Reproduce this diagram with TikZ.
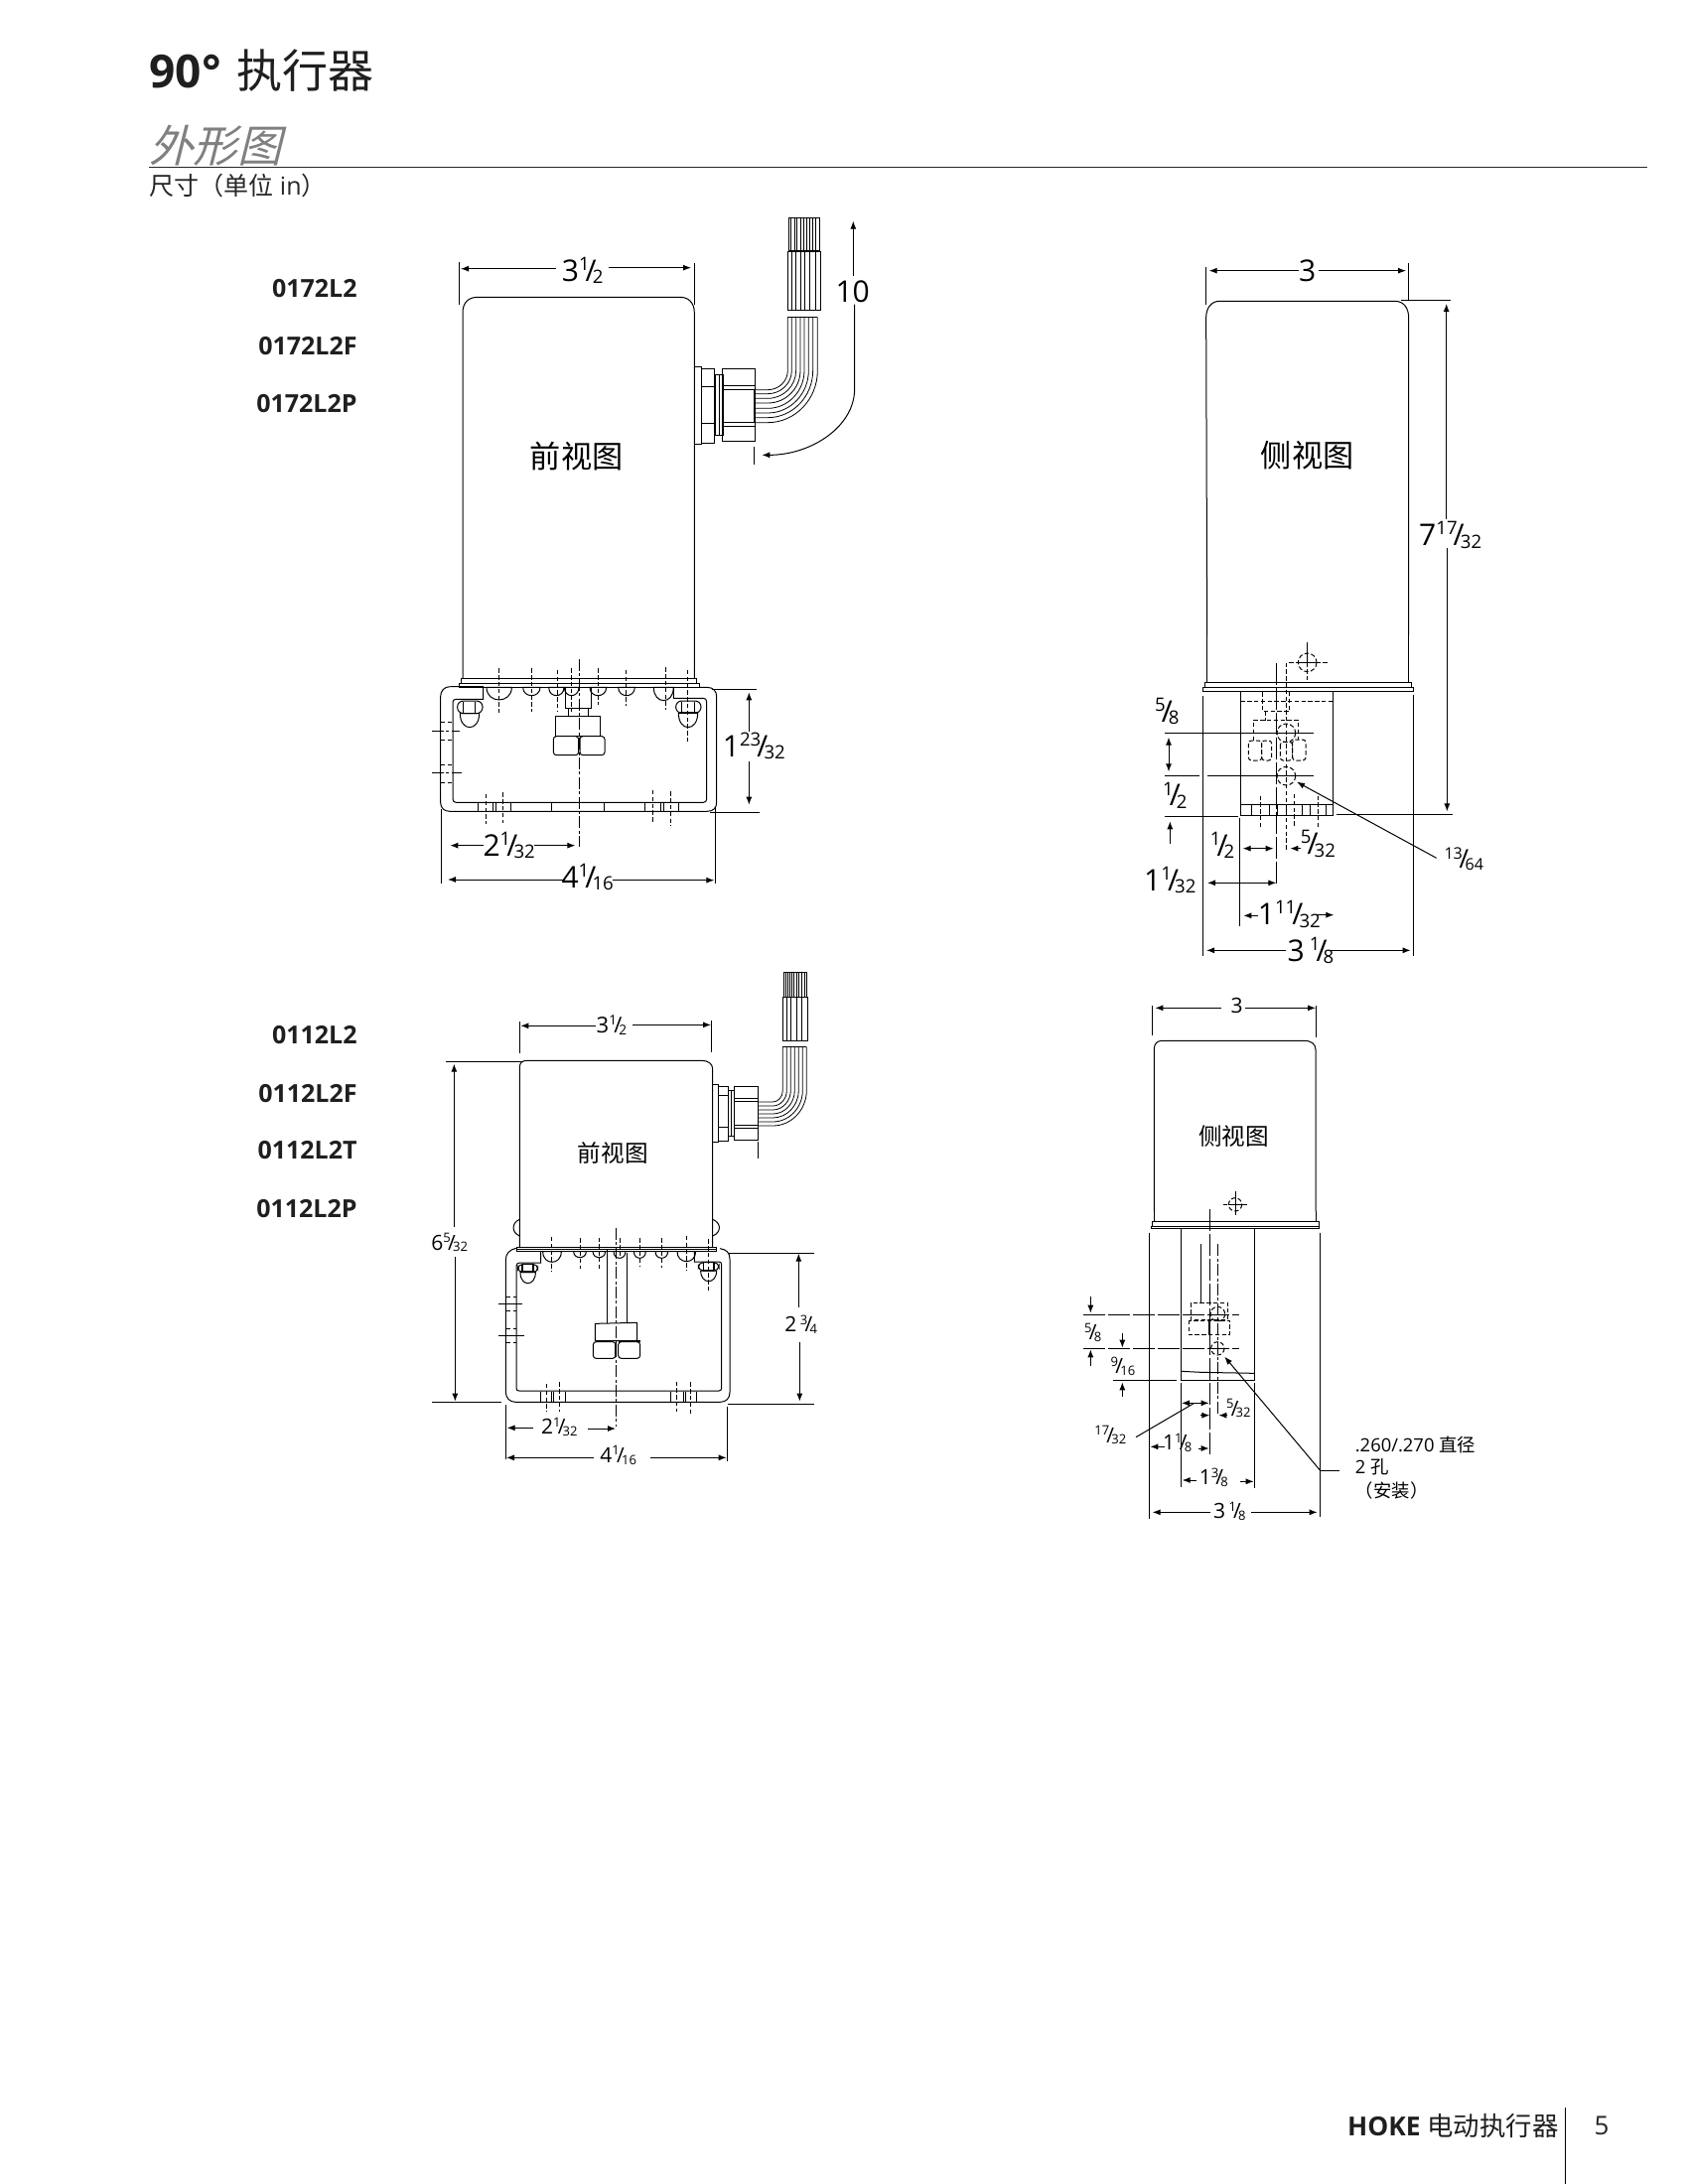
\documentclass[tikz,border=0pt]{standalone}
\usepackage{fontspec}
\usepackage{graphicx}
\setmainfont{Open Sans}
\newfontfamily\cjk{Noto Sans CJK SC}
\newfontfamily\cjkit[FakeSlant=0.25]{Noto Sans CJK SC}
\usetikzlibrary{arrows.meta}
\newcommand{\fr}[2]{\raisebox{.36em}{\scalebox{.62}{#1}}\kern-.13em/\kern-.13em\raisebox{-.08em}{\scalebox{.62}{#2}}}
\newcommand{\dome}[4]{\draw (#1-#2,#4) .. controls (#1-#2,{#4+1.33*#3}) and (#1+#2,{#4+1.33*#3}) .. (#1+#2,#4) -- cycle;}
\newcommand{\wire}[6]{\draw[wr] (#1,#5) -- (#1,#4) .. controls (#1,{#4+.55*(#2-#4)}) and ({#3+.55*(#1-#3)},#2) .. (#3,#2) -- (#6,#2);}
\newcommand{\vtick}[3]{\foreach \q in {#1} {\draw[wr] (\q,#2) -- (\q,#3);}}
\tikzset{
  zm/.style 2 args={shift={(#1,#2)},scale=0.33333},
  ar/.style={-{Latex[length=4pt,width=3pt]},line width=.5pt},
  dbl/.style={{Latex[length=4pt,width=3pt]}-{Latex[length=4pt,width=3pt]},line width=.5pt},
  cl/.style={dash pattern=on 6pt off 1.2pt on 1.5pt off 1.2pt},
  ds/.style={dash pattern=on 2.2pt off 1.2pt},
  ld/.style={dash pattern=on 11pt off 1.5pt},
  wr/.style={line width=.4pt},
  big/.style={inner sep=0,font=\fontsize{15}{15}\selectfont,fill=white},
  sm/.style={inner sep=0,font=\fontsize{10.5}{10.5}\selectfont,fill=white},
  pn/.style={inner sep=0,anchor=east,font=\fontsize{12.5}{13}\selectfont\bfseries,text=black!88},
  vw/.style={inner sep=0,font=\fontsize{15.6}{16}\selectfont\cjk},
  vs/.style={inner sep=0,font=\fontsize{11.8}{12}\selectfont\cjk},
  nt/.style={inner sep=0,anchor=west,font=\fontsize{9.2}{10}\selectfont}
}
\begin{document}
\begin{tikzpicture}[x=0.5pt,y=-0.5pt,line width=.5pt]
\useasboundingbox[fill=white] (0,0) rectangle (1700,2200);
% ---------- page furniture
\node[inner sep=0,anchor=base west,text=black!88,font=\fontsize{23}{23}\selectfont] (title) at (150,88) {\textbf{90°}\kern2pt\ {\cjk 执行器}};
\node[inner sep=0,anchor=base west,text=black!50,font=\fontsize{22.2}{23}\selectfont\cjkit] (sub) at (150,163) {外形图};
\draw[line width=.5pt,black!85] (150,168) -- (1659,168);
\node[inner sep=0,anchor=west,font=\fontsize{12.5}{13}\selectfont,text=black!85] (unit) at (150,187) {{\cjk 尺寸（单位} in{\cjk ）}};
\node[inner sep=0,anchor=east,text=black!88,font=\fontsize{13.2}{13}\selectfont] (foot) at (1570,2141) {\textbf{HOKE} \cjk 电动执行器};
\draw (1576,2123) -- (1576,2200);
\node[inner sep=0,font=\fontsize{13}{13}\selectfont,text=black!85] (pg) at (1613,2141) {5};
\node[pn] (a1) at (360,291) {0172L2};
\node[pn] (a2) at (360,349) {0172L2F};
\node[pn] (a3) at (360,407) {0172L2P};
\node[pn] (b1) at (360,1043) {0112L2};
\node[pn] (b2) at (360,1102) {0112L2F};
\node[pn] (b3) at (360,1159) {0112L2T};
\node[pn] (b4) at (360,1218) {0112L2P};
% ---------- FRONT VIEW 1, upper
\begin{scope}[zm={400}{200}]
\draw (198,1450) -- (198,345) .. controls (198,315) and (215,298) .. (243,298) -- (855,298) .. controls (880,298) and (898,315) .. (898,345) -- (898,1450);
\draw (187,193) -- (187,322) (898,195) -- (898,320);
\draw[ar] (480,212) -- (192,212);
\draw[ar] (640,209) -- (888,209);
\node[big,fill=none] (d1) at (560,218) {3\fr{1}{2}};
\node[vw] (v1) at (542,780) {前视图};
% wires
\draw[wr] (1183,58) rectangle (1275,158);
\vtick{1190,1200,1208,1218,1227,1236,1245,1255,1264}{58}{158}
\draw (1180,160) rectangle (1280,337);
\vtick{1193,1205,1218,1232,1247,1265}{160}{337}
\draw[wr] (1180,358) -- (1270,358);
\foreach \xx/\yy in {1180/578,1192/590,1205/604,1218/618,1230/634,1243/648,1256/662,1270/677} {\wire{\xx}{\yy}{1120}{520}{358}{1082}}
% gland
\draw (898,508) rectangle (920,743);
\draw (920,514) rectangle (958,738);
\draw (920,568) -- (958,568) (920,678) -- (958,678);
\draw (960,532) rectangle (985,716);
\draw (972,532) -- (972,716);
\draw (982,514) rectangle (1082,733);
\draw (985,565) -- (1082,565) (985,578) -- (1082,578) (985,677) -- (1082,677) (985,688) -- (1082,688) (1078,578) -- (1078,677);
\draw (1078,750) -- (1078,805);
\draw[ar] (1382,320) -- (1382,575) .. controls (1382,690) and (1250,775) .. (1102,775);
\draw[ar] (1378,235) -- (1378,68);
\node[big,fill=none] (d2) at (1376,280) {10};
\end{scope}
% ---------- FRONT VIEW 1, lower
\begin{scope}[zm={400}{640}]
\draw (192,130) rectangle (905,145);
\draw (187,145) rectangle (913,157);
\draw (160,155) .. controls (142,155) and (131,168) .. (131,185) -- (131,505) .. controls (131,522) and (142,532) .. (160,532) -- (935,532) .. controls (955,532) and (965,522) .. (965,505) -- (965,185) .. controls (965,168) and (955,157) .. (935,157) -- (913,157);
\draw (160,155) -- (260,155) -- (260,193) -- (178,193) .. controls (172,193) and (168,196) .. (168,202) -- (168,495) .. controls (168,501) and (172,505) .. (178,505) -- (925,505) .. controls (931,505) and (935,501) .. (935,495) -- (935,200) .. controls (935,194) and (931,190) .. (925,190) -- (835,190) -- (835,157);
\dome{308}{38}{38}{157}\dome{406}{26}{25}{157}\dome{481}{23}{25}{157}\dome{527}{22}{25}{157}\dome{607}{25}{25}{157}\dome{693}{25}{25}{157}\dome{805}{30}{40}{157}
\foreach \q/\a/\b in {308/100/235,406/100/230,484/105/230,527/100/230,607/100/210,692/105/212,812/97/225,877/105/320} {\draw[ds] (\q,\a) -- (\q,\b);}
\draw[cl] (550,72) -- (550,640);
\draw (508,157) -- (508,220) -- (586,220) -- (586,157);
\draw (518,220) rectangle (578,245);
\draw (478,245) rectangle (614,305);
\draw[rounded corners=1.5pt] (472,305) rectangle (548,362);
\draw[rounded corners=1.5pt] (552,305) rectangle (627,362);
% cap nuts
\draw[rounded corners=3pt] (182,198) rectangle (258,236);
\dome{219}{29}{42}{236}
\draw (200,202) -- (200,234) (236,202) -- (236,234) (195,234) -- (245,234);
\draw[rounded corners=3pt] (842,198) rectangle (918,235);
\dome{879}{29}{43}{235}
\draw (860,202) -- (860,233) (898,202) -- (898,233) (855,233) -- (905,233);
% left holes
\foreach \q in {262,317,392,445} {\draw[ds] (132,\q) -- (170,\q);}
\draw[cl] (105,289) -- (190,289);
\draw[cl] (105,415) -- (195,415);
\vtick{245,290,298,343,466,625,748,796,804,851}{505}{532}
\foreach \q/\a/\b in {268/480/570,320/475/568,772/468/570,827/472/575} {\draw[ds] (\q,\a) -- (\q,\b);}
% dimensions
\draw (950,162) -- (1085,162) (945,535) -- (1095,535);
\draw[ar] (1063,290) -- (1063,172);
\draw[ar] (1063,380) -- (1063,512);
\node[big,fill=none] (d3) at (1078,335) {1\fr{23}{32}};
\draw (133,525) -- (133,750) (961,520) -- (961,750);
\draw[ar] (260,635) -- (160,635);
\draw[ar] (415,635) -- (538,635);
\node[big,fill=none] (d4) at (338,635) {2\fr{1}{32}};
\draw[ar] (500,738) -- (153,738);
\draw[ar] (650,740) -- (958,740);
\node[big,fill=none] (d5) at (575,730) {4\fr{1}{16}};
\end{scope}
% ---------- SIDE VIEW 1, upper
\begin{scope}[zm={1170}{240}]
\draw (137,1200) -- (134,240) .. controls (134,210) and (150,190) .. (175,190) -- (705,190) .. controls (730,190) and (746,210) .. (746,240) -- (746,1200);
\draw (133,88) -- (133,200) (746,75) -- (746,190);
\draw[ar] (415,98) -- (143,98);
\draw[ar] (475,98) -- (738,98);
\node[big,fill=none] (d6) at (440,97) {3};
\draw (722,188) -- (873,188);
\draw[ar] (860,850) -- (860,198);
\draw (862,935) -- (862,1200);
\node[big,fill=none] (d7) at (872,897) {7\fr{17}{32}};
\node[vw] (v2) at (440,655) {侧视图};
\end{scope}
% ---------- SIDE VIEW 1, lower
\begin{scope}[zm={1120}{620}]
\draw (287,60) -- (287,203) (895,60) -- (895,203);
\draw (279,203) rectangle (905,217);
\draw (275,217) rectangle (911,230);
\draw (275,243) -- (275,1028) (910,240) -- (910,1028);
\draw (388,230) rectangle (668,605);
\draw (388,570) -- (668,570);
\vtick{421,475,500,525,573,598,645}{570}{605}
\foreach \q/\a/\b in {448/545/640,550/540/635,622/545/640} {\draw[ds] (\q,\a) -- (\q,\b);}
\draw[ds] (388,260) -- (668,260);
\draw[ds] (455,232) -- (455,290) -- (535,290) -- (535,232);
\draw[ds] (463,290) -- (463,317);
\draw[ds] (427,378) -- (427,317) -- (563,317) -- (563,375);
\foreach \a/\b/\c/\d in {412/378/452/438,452/378/482/438,508/382/545/438,545/375/585/438} {\draw[ds,rounded corners=1.5pt] (\a,\b) rectangle (\c,\d);}
\draw[ld] (497,143) -- (497,815);
\draw[ds] (527,143) -- (527,712);
\draw[ds] (590,142) circle[radius=28];
\draw (590,82) -- (590,142) (560,142) -- (620,142);
\draw[ds] (590,142) -- (590,195) (535,142) -- (655,142);
\draw[ds] (526,355) circle[radius=28];
\draw[ds] (526,485) circle[radius=28];
\draw (160,355) -- (610,355) (160,484) -- (265,484) (288,484) -- (610,484) (160,607) -- (382,607) (678,601) -- (1030,601);
\draw[ar] (1012,0) -- (1012,592);
\draw[dbl] (171,368) -- (171,472);
\draw[ar] (175,690) -- (175,622);
\node[big,fill=none] (d8) at (166,290) {\fr{5}{8}};
\node[big,fill=none] (d9) at (190,543) {\fr{1}{2}};
\draw (385,612) -- (385,938);
\draw[dbl] (395,704) -- (488,704);
\node[big,fill=none] (d10) at (333,695) {\fr{1}{2}};
\draw[ar] (570,704) -- (538,704);
\node[big,fill=none] (d11) at (622,690) {\fr{5}{32}};
\draw[dbl] (288,808) -- (496,808);
\node[big,fill=none] (d12) at (175,800) {1\fr{1}{32}};
\draw[ar] (440,907) -- (397,907);
\draw[ar] (615,905) -- (670,905);
\node[big,fill=none] (d13) at (535,903) {1\fr{11}{32}};
\draw[ar] (525,1012) -- (285,1012);
\draw[ar] (655,1012) -- (902,1012);
\node[big,fill=none] (d14) at (600,1012) {3\,\fr{1}{8}};
\draw[ar] (980,733) -- (558,503);
\node[inner sep=0,font=\fontsize{13}{13}\selectfont] (d15) at (1063,735) {\fr{13}{64}};
\end{scope}
% ---------- FRONT VIEW 2, upper
\begin{scope}[zm={420}{960}]
\draw (310,890) -- (310,345) .. controls (310,332) and (318,325) .. (332,325) -- (860,325) .. controls (880,325) and (893,335) .. (893,350) -- (893,890);
\draw (310,805) .. controls (285,815) and (285,845) .. (310,855);
\draw (893,805) .. controls (920,815) and (920,845) .. (893,855);
\draw (310,208) -- (310,302) (890,205) -- (890,300);
\draw[ar] (540,220) -- (313,220);
\draw[ar] (652,217) -- (888,217);
\node[sm,fill=none,font=\fontsize{11}{11}\selectfont] (e1) at (588,218) {3\fr{1}{2}};
\node[vs] (v3) at (592,605) {前视图};
\draw (88,327) -- (320,327);
\draw[ar] (112,828) -- (112,335);
\node[sm,fill=none] (e2) at (98,875) {6\fr{5}{32}};
\draw (893,397) rectangle (910,572);
\draw (910,402) rectangle (940,568);
\draw (910,430) -- (940,430) (910,527) -- (940,527);
\draw (940,415) rectangle (958,553);
\draw (950,415) -- (950,553);
\draw (958,403) rectangle (1031,566);
\draw (958,438) -- (1031,438) (958,448) -- (1031,448) (958,520) -- (1031,520) (958,530) -- (1031,530);
\draw (1031,570) -- (1031,620);
\draw (1107,58) rectangle (1178,132);
\vtick{1113,1119,1125,1132,1139,1147,1154,1162,1170}{58}{132}
\draw (1105,132) rectangle (1181,266);
\vtick{1118,1130,1147,1162}{132}{266}
\draw[wr] (1105,283) -- (1175,283);
\foreach \xx/\yy in {1105/450,1117/462,1129/474,1141/486,1153/498,1165/510,1177/522} {\wire{\xx}{\yy}{1075}{415}{283}{1031}}
\end{scope}
% ---------- FRONT VIEW 2, lower
\begin{scope}[zm={420}{1210}]
\draw (302,139) rectangle (905,146);
\draw (300,146) rectangle (905,152);
\draw (300,142) .. controls (280,146) and (268,158) .. (268,177) -- (268,575) .. controls (268,595) and (280,607) .. (298,607) -- (915,607) .. controls (935,607) and (945,595) .. (945,577) -- (945,175) .. controls (945,155) and (935,146) .. (915,143);
\draw (374,152) -- (374,186) -- (310,186) .. controls (304,186) and (300,190) .. (300,196) -- (300,565) .. controls (300,570) and (303,573) .. (308,573) -- (912,573) .. controls (917,573) and (920,570) .. (920,565) -- (920,190) .. controls (920,186) and (917,183) .. (912,183) -- (838,183) -- (838,152);
\dome{408}{28}{32}{152}\dome{492}{19}{18}{152}\dome{550}{19}{18}{152}\dome{612}{18}{20}{152}\dome{673}{18}{20}{152}\dome{739}{19}{20}{152}\dome{814}{28}{30}{152}
\foreach \q/\a/\b in {406/108/213,493/112/205,550/110/207,612/112/170,673/112/195,739/112/202,814/105/210,881/115/275} {\draw[ds] (\q,\a) -- (\q,\b);}
\draw[cl] (601,80) -- (601,680);
\draw (575,148) -- (575,370) (635,155) -- (635,368);
\draw (538,370) -- (665,367) -- (665,422) -- (538,422) -- cycle;
\draw[rounded corners=1.5pt] (532,425) rectangle (600,475);
\draw[rounded corners=1.5pt] (608,425) rectangle (674,475);
\draw[line width=.9pt] (608,423) -- (674,423) (600,428) -- (600,472);
\draw[rounded corners=2.5pt] (305,190) rectangle (365,215);
\dome{335}{23}{33}{215}
\draw[line width=.9pt] (318,213) -- (352,213) (318,192) -- (318,213) (350,192) -- (350,213);
\draw[rounded corners=2.5pt] (850,185) rectangle (912,210);
\dome{881}{24}{32}{210}
\draw[line width=.7pt] (865,208) -- (897,208) (865,187) -- (865,208) (897,187) -- (897,208);
\foreach \q in {288,332,385,428} {\draw[ds] (270,\q) -- (300,\q);}
\draw (247,310) -- (318,310) (247,406) -- (323,406);
\vtick{373,407,412,448,766,806,811,845}{575}{605}
\foreach \q/\a/\b in {392/552/635,430/547/635,785/545/637,827/547/645} {\draw[ds] (\q,\a) -- (\q,\b);}
\draw[ar] (115,168) -- (115,605);
\draw (45,607) -- (255,607) (940,157) -- (1200,157) (938,613) -- (1200,613);
\draw[ar] (1153,322) -- (1153,158);
\draw[ar] (1156,427) -- (1156,605);
\node[sm,fill=none] (e3) at (1160,372) {2\,\fr{3}{4}};
\draw (268,615) -- (268,780) (938,622) -- (938,785);
\draw[ar] (352,685) -- (272,685);
\draw[ar] (516,687) -- (600,687);
\node[sm,fill=none] (e4) at (430,682) {2\fr{1}{32}};
\draw[ar] (535,775) -- (270,775);
\draw[ar] (705,775) -- (935,775);
\node[sm,fill=none] (e5) at (608,768) {4\fr{1}{16}};
\end{scope}
% ---------- SIDE VIEW 2, upper
\begin{scope}[zm={1120}{980}]
\draw (127,720) -- (127,230) .. controls (127,213) and (137,205) .. (152,205) -- (580,205) .. controls (602,205) and (615,215) .. (615,232) -- (615,720);
\draw (121,100) -- (121,188) (616,100) -- (616,196);
\draw[ar] (330,106) -- (130,106);
\draw[ar] (403,106) -- (615,106);
\node[sm,fill=none] (f1) at (377,100) {3};
\node[vs] (v4) at (368,493) {侧视图};
\end{scope}
% ---------- SIDE VIEW 2, lower
\begin{scope}[zm={1070}{1180}]
\draw (277,120) -- (277,152) (767,120) -- (767,152);
\draw[ds] (522,100) circle[radius=20];
\draw (522,60) -- (522,120) (500,100) -- (545,100);
\draw[ds] (522,120) -- (522,135) (485,100) -- (565,100);
\draw (270,152) rectangle (775,165);
\draw (268,165) rectangle (776,172);
\draw (359,172) rectangle (580,632);
\draw (359,604) -- (420,607) -- (580,610);
\draw (263,185) -- (263,1050) (778,185) -- (778,1045) (359,640) -- (359,955) (580,640) -- (580,958);
\draw[ld] (445,115) -- (445,862);
\draw[cl] (469,220) -- (469,733);
\draw (418,220) -- (418,397);
\draw[ds] (388,397) rectangle (500,448);
\draw[ds] (382,450) rectangle (506,493);
\draw[line width=.8pt] (444,450) -- (444,493);
\draw[ds] (469,431) circle[radius=22];
\draw[ds] (469,535) circle[radius=20];
\draw[ld] (63,433) -- (533,433);
\draw[ld] (63,535) -- (533,535);
\draw (153,632) -- (345,632);
\draw[ar] (85,377) -- (85,428);
\draw[ar] (85,587) -- (85,538);
\node[sm,fill=none] (f2) at (92,487) {\fr{5}{8}};
\draw[ar] (181,490) -- (181,533);
\draw[ar] (181,682) -- (181,637);
\node[sm,fill=none] (f3) at (183,588) {\fr{9}{16}};
\draw[dbl] (360,700) -- (443,700);
\draw (222,803) -- (395,702);
\node[sm,fill=none] (f4) at (145,797) {\fr{17}{32}};
\draw[ar] (418,737) -- (445,737);
\draw[ar] (497,737) -- (472,737);
\node[sm,fill=none] (f5) at (532,716) {\fr{5}{32}};
\draw[ar] (310,832) -- (265,832);
\draw[ar] (410,837) -- (443,837);
\node[sm,fill=none] (f6) at (347,820) {1\fr{1}{8}};
\draw[ar] (405,933) -- (362,933);
\draw[ar] (538,937) -- (578,937);
\node[sm,fill=none] (f7) at (457,925) {1\fr{3}{8}};
\draw[ar] (448,1030) -- (272,1030);
\draw[ar] (570,1030) -- (770,1030);
\node[sm,fill=none] (f8) at (505,1027) {3\,\fr{1}{8}};
\draw (838,903) -- (778,903);
\draw[ar] (778,903) -- (490,560);
\node[nt] (n1) at (883,825) {.260/.270 {\cjk 直径}};
\node[nt] (n2) at (883,893) {2 {\cjk 孔}};
\node[nt] (n3) at (883,965) {\cjk （安装）};
\end{scope}
\end{tikzpicture}
\end{document}
